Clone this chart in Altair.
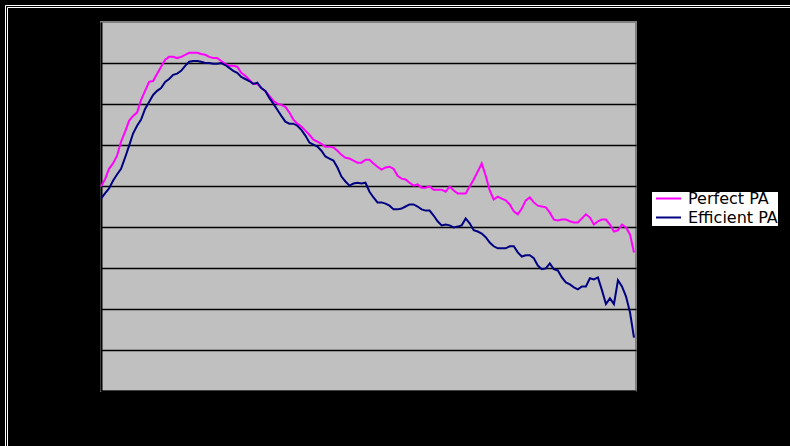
import altair as alt
import pandas as pd

# Two series sampled on the same evenly spaced periods
series_names = ["Perfect PA", "Efficient PA"]
series_colors = ["#FF00FF", "#000080"]

perfect_pa = [
    49.9, 51.6, 54.2, 55.5, 57.4, 60.8, 63.2, 65.9, 67.1, 67.9,
    71.0, 73.2, 75.4, 75.6, 77.4, 79.1, 80.8, 81.5, 81.5, 81.2,
    81.5, 82.0, 82.5, 82.5, 82.5, 82.2, 82.0, 81.5, 81.2, 81.2,
    80.5, 79.8, 79.3, 79.3, 79.1, 77.6, 76.9, 75.9, 74.9, 74.9,
    73.9, 73.2, 72.0, 70.8, 70.1, 69.8, 69.3, 67.9, 66.2, 65.2,
    64.5, 63.5, 62.5, 61.3, 60.8, 60.3, 59.6, 59.6, 59.4, 58.6,
    57.6, 56.9, 56.7, 56.2, 55.7, 55.7, 56.4, 56.4, 55.5, 54.7,
    54.0, 54.5, 54.7, 54.2, 52.5, 51.8, 51.6, 50.8, 50.1, 50.4,
    49.6, 49.6, 49.9, 49.1, 49.1, 49.1, 48.6, 49.9, 48.9, 48.2,
    48.2, 48.2, 49.9, 51.6, 53.5, 55.5, 52.5, 48.9, 46.7, 47.4,
    46.9, 46.5, 45.5, 43.8, 43.1, 44.5, 46.5, 47.2, 46.0, 45.2,
    45.0, 44.8, 43.5, 41.8, 41.6, 41.8, 41.8, 41.4, 41.1, 41.1,
    42.1, 43.1, 42.3, 40.6, 41.4, 41.8, 41.8, 40.6, 38.9, 39.2,
    40.6, 39.9, 38.2, 33.8,
]

efficient_pa = [
    46.9, 48.2, 49.4, 51.3, 52.8, 54.2, 56.9, 59.8, 62.8, 64.7,
    66.2, 68.8, 70.5, 72.2, 73.2, 73.9, 75.4, 76.1, 77.1, 77.4,
    78.1, 79.3, 80.3, 80.5, 80.5, 80.3, 80.0, 80.0, 79.8, 79.8,
    80.0, 79.5, 78.8, 78.1, 77.6, 76.6, 76.1, 75.6, 74.9, 75.2,
    73.9, 73.2, 71.5, 70.1, 68.6, 67.1, 65.7, 65.2, 65.2, 64.7,
    63.7, 62.3, 60.6, 60.1, 59.6, 58.6, 57.2, 56.7, 56.2, 54.5,
    52.3, 51.1, 50.1, 50.6, 50.8, 50.6, 50.8, 48.6, 47.2, 46.0,
    46.0, 45.7, 45.2, 44.3, 44.3, 44.5, 45.0, 45.5, 45.5, 45.0,
    44.3, 44.0, 44.0, 42.8, 41.4, 40.4, 40.6, 40.4, 39.9, 40.1,
    40.4, 42.1, 40.9, 39.2, 38.9, 38.4, 37.5, 36.2, 35.3, 34.8,
    34.8, 34.8, 35.3, 35.3, 33.8, 32.8, 33.1, 33.1, 32.4, 30.6,
    29.7, 29.9, 31.1, 29.7, 29.4, 27.7, 26.5, 26.0, 25.3, 24.8,
    25.5, 25.5, 27.5, 27.2, 27.7, 24.6, 21.2, 22.6, 21.2, 27.0,
    25.5, 23.1, 19.2, 13.0,
]

grid_values = [10, 20, 30, 40, 50, 60, 70, 80]

n = len(perfect_pa)
df = pd.DataFrame({
    "period": list(range(n)) * 2,
    "value": perfect_pa + efficient_pa,
    "series": [series_names[0]] * n + [series_names[1]] * n,
})

lines = alt.Chart(df).mark_line(strokeWidth=2).encode(
    x=alt.X(
        "period:Q",
        scale=alt.Scale(domain=[0, n - 0.5], nice=False, zero=False),
        axis=alt.Axis(title=None, labels=False, ticks=False, grid=False,
                      domainColor="black", domainWidth=2),
    ),
    y=alt.Y(
        "value:Q",
        scale=alt.Scale(domain=[0, 90], nice=False),
        axis=alt.Axis(title=None, labels=False, ticks=False, values=grid_values,
                      grid=True, gridColor="black", gridWidth=1.5, gridOpacity=1,
                      domainColor="black", domainWidth=2),
    ),
    color=alt.Color(
        "series:N",
        sort=series_names,
        scale=alt.Scale(domain=series_names, range=series_colors),
        legend=alt.Legend(
            title=None, orient="none", legendX=551, legendY=170,
            fillColor="white", padding=0, symbolType="stroke",
            symbolSize=625, symbolStrokeWidth=2, clipHeight=13,
            rowPadding=2, labelFont="DejaVu Sans", labelFontSize=16,
            labelColor="black", labelOffset=6, symbolOffset=3,
        ),
    ),
)

# White double border around the chart area
frame_src = pd.DataFrame({"frame": ["outer", "inner"]})
outer = alt.Chart(frame_src).transform_filter(alt.datum.frame == "outer").mark_rect(
    fill="transparent", stroke="white", strokeWidth=1
).encode(x=alt.value(-95.5), x2=alt.value(800), y=alt.value(-16.5), y2=alt.value(500))
inner = alt.Chart(frame_src).transform_filter(alt.datum.frame == "inner").mark_rect(
    fill="transparent", stroke="white", strokeWidth=1
).encode(x=alt.value(-93.5), x2=alt.value(800), y=alt.value(-14.5), y2=alt.value(500))

chart = alt.layer(lines, outer, inner).properties(
    width=535,
    height=369,
    autosize=alt.AutoSizeParams(type="none"),
    padding={"left": 101, "top": 22, "right": 154, "bottom": 55},
    background="black",
).configure_view(
    fill="#C0C0C0", stroke="#808080", strokeWidth=2
)

chart.save("out.html", embed_options={"renderer": "svg", "actions": False})
